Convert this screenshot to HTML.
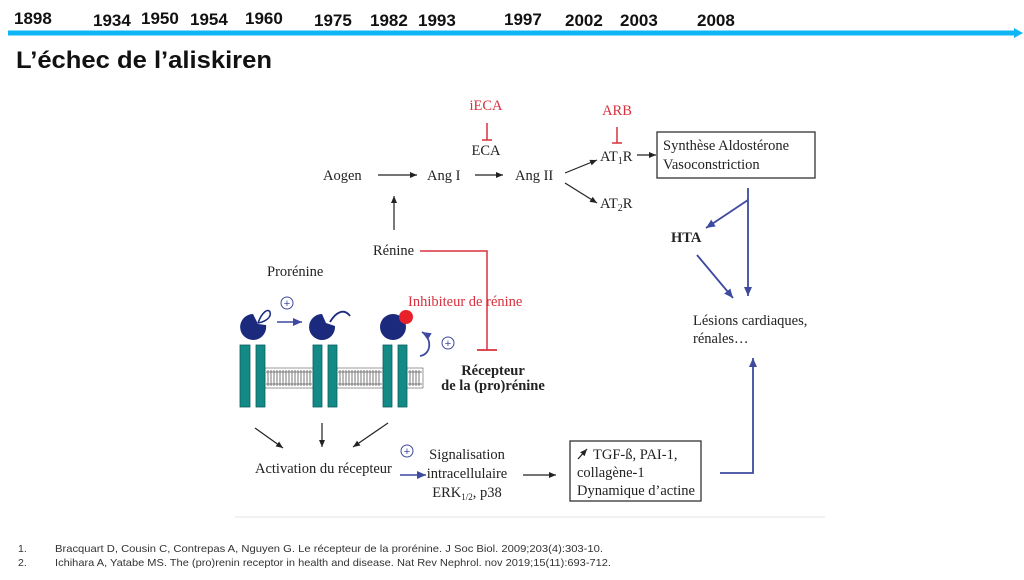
<!DOCTYPE html>
<html><head><meta charset="utf-8"><style>
html,body{margin:0;padding:0;background:#fff;}
svg{display:block;}
.y{font-family:"Liberation Sans",sans-serif;font-weight:bold;font-size:17px;fill:#111;}
.d{font-family:"Liberation Serif",serif;font-size:14.5px;fill:#222;}
.r{font-family:"Liberation Serif",serif;font-size:14.5px;fill:#d8303c;}
.ref{font-family:"Liberation Sans",sans-serif;font-size:10.5px;fill:#333;}
</style></head><body>
<svg width="1024" height="580" viewBox="0 0 1024 580" xmlns="http://www.w3.org/2000/svg">
<defs>
<marker id="ak" markerWidth="8" markerHeight="8" refX="7" refY="4" orient="auto" markerUnits="userSpaceOnUse"><path d="M0,1 L7,4 L0,7 Z" fill="#222"/></marker>
<marker id="ab" markerWidth="10" markerHeight="10" refX="9" refY="5" orient="auto" markerUnits="userSpaceOnUse"><path d="M0,1 L9,5 L0,9 Z" fill="#3d4aa0"/></marker>
</defs>
<text class="y" x="14" y="24">1898</text>
<text class="y" x="93" y="26">1934</text>
<text class="y" x="141" y="24">1950</text>
<text class="y" x="190" y="25">1954</text>
<text class="y" x="245" y="24">1960</text>
<text class="y" x="314" y="26">1975</text>
<text class="y" x="370" y="26">1982</text>
<text class="y" x="418" y="26">1993</text>
<text class="y" x="504" y="25">1997</text>
<text class="y" x="565" y="26">2002</text>
<text class="y" x="620" y="26">2003</text>
<text class="y" x="697" y="26">2008</text>
<rect x="8" y="30.5" width="1008" height="5" fill="#0fb6f5"/>
<path d="M1014,28 L1023,33 L1014,38 Z" fill="#0fb6f5"/>
<text x="16" y="68" font-family="Liberation Sans,sans-serif" font-weight="bold" font-size="24" fill="#111" textLength="256" lengthAdjust="spacingAndGlyphs">L’échec de l’aliskiren</text>
<line x1="235" y1="517" x2="825" y2="517" stroke="#e6e6e6" stroke-width="1"/>
<text class="r" x="486" y="110" text-anchor="middle">iECA</text>
<line x1="487" y1="123" x2="487" y2="140" stroke="#d8303c" stroke-width="1.5"/>
<line x1="482" y1="140" x2="492" y2="140" stroke="#d8303c" stroke-width="1.5"/>
<text class="d" x="486" y="155" text-anchor="middle">ECA</text>
<text class="r" x="617" y="115" text-anchor="middle">ARB</text>
<line x1="617" y1="127" x2="617" y2="143" stroke="#d8303c" stroke-width="1.5"/>
<line x1="612" y1="143" x2="622" y2="143" stroke="#d8303c" stroke-width="1.5"/>
<text class="d" x="323" y="180">Aogen</text>
<line x1="378" y1="175" x2="417" y2="175" stroke="#222" stroke-width="1.2" marker-end="url(#ak)"/>
<text class="d" x="427" y="180">Ang I</text>
<line x1="475" y1="175" x2="503" y2="175" stroke="#222" stroke-width="1.2" marker-end="url(#ak)"/>
<text class="d" x="515" y="180">Ang II</text>
<line x1="565" y1="173" x2="597" y2="160" stroke="#222" stroke-width="1.2" marker-end="url(#ak)"/>
<line x1="565" y1="183" x2="597" y2="203" stroke="#222" stroke-width="1.2" marker-end="url(#ak)"/>
<text class="d" x="600" y="161">AT<tspan font-size="10" dy="3">1</tspan><tspan dy="-3">R</tspan></text>
<text class="d" x="600" y="208">AT<tspan font-size="10" dy="3">2</tspan><tspan dy="-3">R</tspan></text>
<line x1="637" y1="155" x2="656" y2="155" stroke="#222" stroke-width="1.2" marker-end="url(#ak)"/>
<rect x="657" y="132" width="158" height="46" fill="#fff" stroke="#333" stroke-width="1.3"/>
<text class="d" x="663" y="150">Synthèse Aldostérone</text>
<text class="d" x="663" y="169">Vasoconstriction</text>
<line x1="394" y1="230" x2="394" y2="196" stroke="#222" stroke-width="1.2" marker-end="url(#ak)"/>
<text class="d" x="373" y="255">Rénine</text>
<polyline points="420,251 487,251 487,350" fill="none" stroke="#d8303c" stroke-width="1.5"/>
<line x1="477" y1="350" x2="497" y2="350" stroke="#d8303c" stroke-width="1.8"/>
<text class="r" x="408" y="306">Inhibiteur de rénine</text>
<text class="d" x="493" y="375" text-anchor="middle" font-weight="bold">Récepteur</text>
<text class="d" x="493" y="390" text-anchor="middle" font-weight="bold">de la (pro)rénine</text>
<text class="d" x="267" y="276">Prorénine</text>
<g fill="#fff" stroke="#555" stroke-width="0.6">
<rect x="265" y="368" width="48" height="20"/>
<rect x="337" y="368" width="46" height="20"/>
<rect x="407" y="368" width="16" height="20"/>
</g>
<g stroke="#777" stroke-width="1">
<path d="M266,372H312M266,384H312M338,372H382M338,384H382M408,372H422M408,384H422"/>
<path d="M268,370V386M271,370V386M274,370V386M277,370V386M280,370V386M283,370V386M286,370V386M289,370V386M292,370V386M295,370V386M298,370V386M301,370V386M304,370V386M307,370V386M310,370V386"/>
<path d="M340,370V386M343,370V386M346,370V386M349,370V386M352,370V386M355,370V386M358,370V386M361,370V386M364,370V386M367,370V386M370,370V386M373,370V386M376,370V386M379,370V386"/>
<path d="M410,370V386M413,370V386M416,370V386M419,370V386"/>
</g>
<g fill="#148a86" stroke="#0c5f5c" stroke-width="0.8">
<rect x="240" y="345" width="10" height="62"/><rect x="256" y="345" width="9" height="62"/>
<rect x="313" y="345" width="9" height="62"/><rect x="328" y="345" width="9" height="62"/>
<rect x="383" y="345" width="9" height="62"/><rect x="398" y="345" width="9" height="62"/>
</g>
<g fill="#1c2a7e">
<path d="M253,314 A13,13 0 1 0 266,325 L258,324 Z"/>
<path d="M322,314 A13,13 0 1 0 335,326 L326,323 Z"/>
<circle cx="393" cy="327" r="13"/>
</g>
<path d="M258,323 C262,312 268,308 270,312 C272,318 264,322 258,323" fill="#fff" stroke="#1c2a7e" stroke-width="1.5"/>
<path d="M330,322 C336,312 344,308 350,316" fill="none" stroke="#1c2a7e" stroke-width="1.8"/>
<circle cx="406" cy="317" r="7" fill="#e8202a"/>
<circle cx="287" cy="303" r="6" fill="#fff" stroke="#3d4aa0" stroke-width="1"/>
<text x="287" y="307" text-anchor="middle" font-family="Liberation Sans,sans-serif" font-size="11" fill="#3d4aa0">+</text>
<line x1="277" y1="322" x2="302" y2="322" stroke="#3d4aa0" stroke-width="1.5" marker-end="url(#ab)"/>
<path d="M420,356 C432,354 432,338 422,332" fill="none" stroke="#3d4aa0" stroke-width="1.8" marker-end="url(#ab)"/>
<circle cx="448" cy="343" r="6" fill="#fff" stroke="#3d4aa0" stroke-width="1"/>
<text x="448" y="347" text-anchor="middle" font-family="Liberation Sans,sans-serif" font-size="11" fill="#3d4aa0">+</text>
<line x1="255" y1="428" x2="283" y2="448" stroke="#222" stroke-width="1.2" marker-end="url(#ak)"/>
<line x1="322" y1="423" x2="322" y2="447" stroke="#222" stroke-width="1.2" marker-end="url(#ak)"/>
<line x1="388" y1="423" x2="353" y2="447" stroke="#222" stroke-width="1.2" marker-end="url(#ak)"/>
<text class="d" x="255" y="473">Activation du récepteur</text>
<circle cx="407" cy="451" r="6" fill="#fff" stroke="#3d4aa0" stroke-width="1"/>
<text x="407" y="455" text-anchor="middle" font-family="Liberation Sans,sans-serif" font-size="11" fill="#3d4aa0">+</text>
<line x1="400" y1="475" x2="426" y2="475" stroke="#3d4aa0" stroke-width="1.5" marker-end="url(#ab)"/>
<text class="d" x="467" y="459" text-anchor="middle">Signalisation</text>
<text class="d" x="467" y="478" text-anchor="middle">intracellulaire</text>
<text class="d" x="467" y="497" text-anchor="middle">ERK<tspan font-size="9" dy="3">1/2</tspan><tspan dy="-3">, p38</tspan></text>
<line x1="523" y1="475" x2="556" y2="475" stroke="#222" stroke-width="1.2" marker-end="url(#ak)"/>
<rect x="570" y="441" width="131" height="60" fill="#fff" stroke="#333" stroke-width="1.3"/>
<line x1="578" y1="459" x2="587" y2="449" stroke="#222" stroke-width="1.3" marker-end="url(#ak)"/>
<text class="d" x="593" y="459">TGF-ß, PAI-1,</text>
<text class="d" x="577" y="477">collagène-1</text>
<text class="d" x="577" y="495">Dynamique d’actine</text>
<polyline points="720,473 753,473 753,358" fill="none" stroke="#3d4aa0" stroke-width="1.8" marker-end="url(#ab)"/>
<line x1="748" y1="188" x2="748" y2="296" stroke="#3d4aa0" stroke-width="1.8" marker-end="url(#ab)"/>
<line x1="748" y1="200" x2="706" y2="228" stroke="#3d4aa0" stroke-width="1.8" marker-end="url(#ab)"/>
<text class="d" x="671" y="242" font-weight="bold">HTA</text>
<line x1="697" y1="255" x2="733" y2="298" stroke="#3d4aa0" stroke-width="1.8" marker-end="url(#ab)"/>
<text class="d" x="693" y="325">Lésions cardiaques,</text>
<text class="d" x="693" y="343">rénales…</text>
<text class="ref" x="18" y="552">1.</text>
<text class="ref" x="55" y="552" textLength="548" lengthAdjust="spacingAndGlyphs">Bracquart D, Cousin C, Contrepas A, Nguyen G. Le récepteur de la prorénine. J Soc Biol. 2009;203(4):303-10.</text>
<text class="ref" x="18" y="566">2.</text>
<text class="ref" x="55" y="566" textLength="556" lengthAdjust="spacingAndGlyphs">Ichihara A, Yatabe MS. The (pro)renin receptor in health and disease. Nat Rev Nephrol. nov 2019;15(11):693-712.</text>
</svg>
</body></html>
